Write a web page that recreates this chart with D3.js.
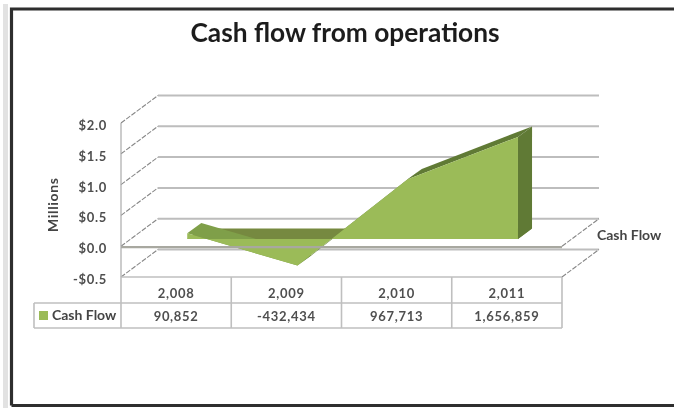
<!DOCTYPE html>
<html>
<head>
<meta charset="utf-8">
<script src="https://cdn.jsdelivr.net/npm/d3@7/dist/d3.min.js"></script>
<style>
	html, body { margin: 0; padding: 0; background: #fff; }
	svg { display: block; }
	text { font-family: Lato, "Open Sans", sans-serif; fill: #333; }
	.title { font-size: 26.3px; font-weight: 700; fill: #1c1c1c; text-anchor: middle; }
	.tick-label { font-size: 13px; font-weight: 700; fill: #4f4f4f; text-anchor: end; letter-spacing: 0.7px; }
	.cell { font-size: 13px; font-weight: 700; fill: #4f4f4f; text-anchor: middle; letter-spacing: 0.7px; }
	.side { font-size: 14px; font-weight: 700; fill: #444; }
</style>
</head>
<body>
<div id="chart"></div>
<script>
// Data
const years = ['2,008', '2,009', '2,010', '2,011'];
const cashFlow = [90852, -432434, 967713, 1656859];
const cashFlowLabels = ['90,852', '-432,434', '967,713', '1,656,859'];
const yTicks = [-0.5, 0, 0.5, 1, 1.5, 2];

const width = 674, height = 412;
// Depth of the 3D box and where the area sits inside it
const depth = { x: 37, y: -27.5 };
const areaFront = 0.3, areaBack = 0.68, areaDrop = 1;

const svg = d3.select('#chart').append('svg')
	.attr('width', width)
	.attr('height', height);

// Slight blur, the source picture is a soft screenshot
svg.append('defs').append('filter').attr('id', 'soft')
	.append('feGaussianBlur').attr('stdDeviation', 0.7);

const root = svg.append('g').attr('filter', 'url(#soft)');

// Scales
const xScale = d3.scaleBand().domain(years).range([121, 562]);
const yScale = d3.scaleLinear().domain([-0.5, 2]).range([277, 123]);

const xMid = i => xScale(years[i]) + xScale.bandwidth() / 2;
const point = (i, v, t) => [xMid(i) + depth.x * t, yScale(v) + depth.y * t + areaDrop];
const line = d3.line();

// Outer frame
root.append('rect').attr('x', 3).attr('y', 4).attr('width', 5).attr('height', 404).attr('fill', '#e2e2e2');
root.append('path')
	.attr('d', 'M11.5,405.5V9H680M11.5,405.5H680')
	.attr('fill', 'none').attr('stroke', '#2e2e2e').attr('stroke-width', 3.2);

// Title
root.append('text').attr('class', 'title').attr('x', 345).attr('y', 42).text('Cash flow from operations');

// Walls and gridlines
const gridColor = '#bdbdbd';
const x0 = xScale.range()[0], x1 = xScale.range()[1];
yTicks.forEach(t => {
	root.append('path')
		.attr('d', line([[x0 + depth.x, yScale(t) + depth.y], [x1 + depth.x, yScale(t) + depth.y]]))
		.attr('stroke', gridColor).attr('stroke-width', 2).attr('fill', 'none');
	root.append('path')
		.attr('d', line([[x0, yScale(t)], [x0 + depth.x, yScale(t) + depth.y]]))
		.attr('stroke', '#888').attr('stroke-width', 1.1).attr('stroke-dasharray', '5 1.5').attr('fill', 'none');
	root.append('text').attr('class', 'tick-label')
		.attr('x', 107).attr('y', yScale(t) + 7)
		.text((t < 0 ? '-$' : '$') + Math.abs(t).toFixed(1));
});

// Floor edges on the right
[-0.5, 0].forEach(t => {
	root.append('path')
		.attr('d', line([[x1, yScale(t)], [x1 + depth.x, yScale(t) + depth.y]]))
		.attr('stroke', '#888').attr('stroke-width', 1.1).attr('stroke-dasharray', '5 1.5').attr('fill', 'none');
});

// Area: floor, top surfaces, end cap, then front face
const values = cashFlow.map(d => d / 1e6);
const last = values.length - 1;
const darkGreen = '#607a35', bandGreen = '#76893f', midGreen = '#7f9f48', lightGreen = '#9bbb59';

root.append('path')
	.attr('d', line([point(0, 0, areaBack), point(last, 0, areaBack), point(last, 0, areaFront), point(0, 0, areaFront)]) + 'Z')
	.attr('fill', bandGreen);

values.slice(0, last).forEach((v, i) => {
	root.append('path')
		.attr('d', line([point(i, v, areaBack), point(i + 1, values[i + 1], areaBack), point(i + 1, values[i + 1], areaFront), point(i, v, areaFront)]) + 'Z')
		.attr('fill', i === 0 ? midGreen : darkGreen);
});

root.append('path')
	.attr('d', line([point(last, values[last], areaFront), point(last, values[last], areaBack), point(last, 0, areaBack), point(last, 0, areaFront)]) + 'Z')
	.attr('fill', darkGreen);

const frontFace = values.map((v, i) => point(i, v, areaFront));
root.append('path')
	.attr('d', line([point(0, 0, areaFront), ...frontFace, point(last, 0, areaFront)]) + 'Z')
	.attr('fill', lightGreen);

// Front zero line and axis
root.append('path').attr('d', line([[x0, yScale(0) + 1], [x1, yScale(0) + 1]]))
	.attr('stroke', '#a8a8a0').attr('stroke-width', 2.2).attr('fill', 'none');
root.append('path').attr('d', line([[x0, yScale(2)], [x0, yScale(-0.5)]]))
	.attr('stroke', '#aaa').attr('stroke-width', 1.2).attr('fill', 'none');

// Axis title
root.append('text').attr('class', 'side')
	.attr('transform', 'translate(58,205) rotate(-90)')
	.attr('text-anchor', 'middle')
	.attr('textLength', 54)
	.text('Millions');

// Series name on the depth axis
root.append('text').attr('class', 'side').attr('x', 597).attr('y', 240).text('Cash Flow');

// Data table
const rowTop = yScale(-0.5), rowMid = 303, rowBottom = 328, tableLeft = 34;
const tableColor = '#bfbfbf';
const tableLines = [
	[[x0, rowTop], [x1, rowTop]],
	[[tableLeft, rowMid], [x1, rowMid]],
	[[tableLeft, rowBottom], [x1, rowBottom]],
	[[tableLeft, rowMid], [tableLeft, rowBottom]],
	[[x0, rowTop], [x0, rowBottom]]
];
years.forEach(y => {
	const right = xScale(y) + xScale.bandwidth();
	tableLines.push([[right, rowTop], [right, rowBottom]]);
});
tableLines.forEach(l => {
	root.append('path').attr('d', line(l))
		.attr('stroke', tableColor).attr('stroke-width', 1.6).attr('fill', 'none');
});

years.forEach((y, i) => {
	root.append('text').attr('class', 'cell').attr('x', xMid(i)).attr('y', rowMid - 5).text(y);
	root.append('text').attr('class', 'cell').attr('x', xMid(i)).attr('y', rowBottom - 7).text(cashFlowLabels[i]);
});

// Legend key in the table
root.append('rect').attr('x', 39).attr('y', 311).attr('width', 9).attr('height', 9).attr('fill', lightGreen);
root.append('text').attr('class', 'side').attr('x', 52).attr('y', 320).text('Cash Flow');
</script>
</body>
</html>
